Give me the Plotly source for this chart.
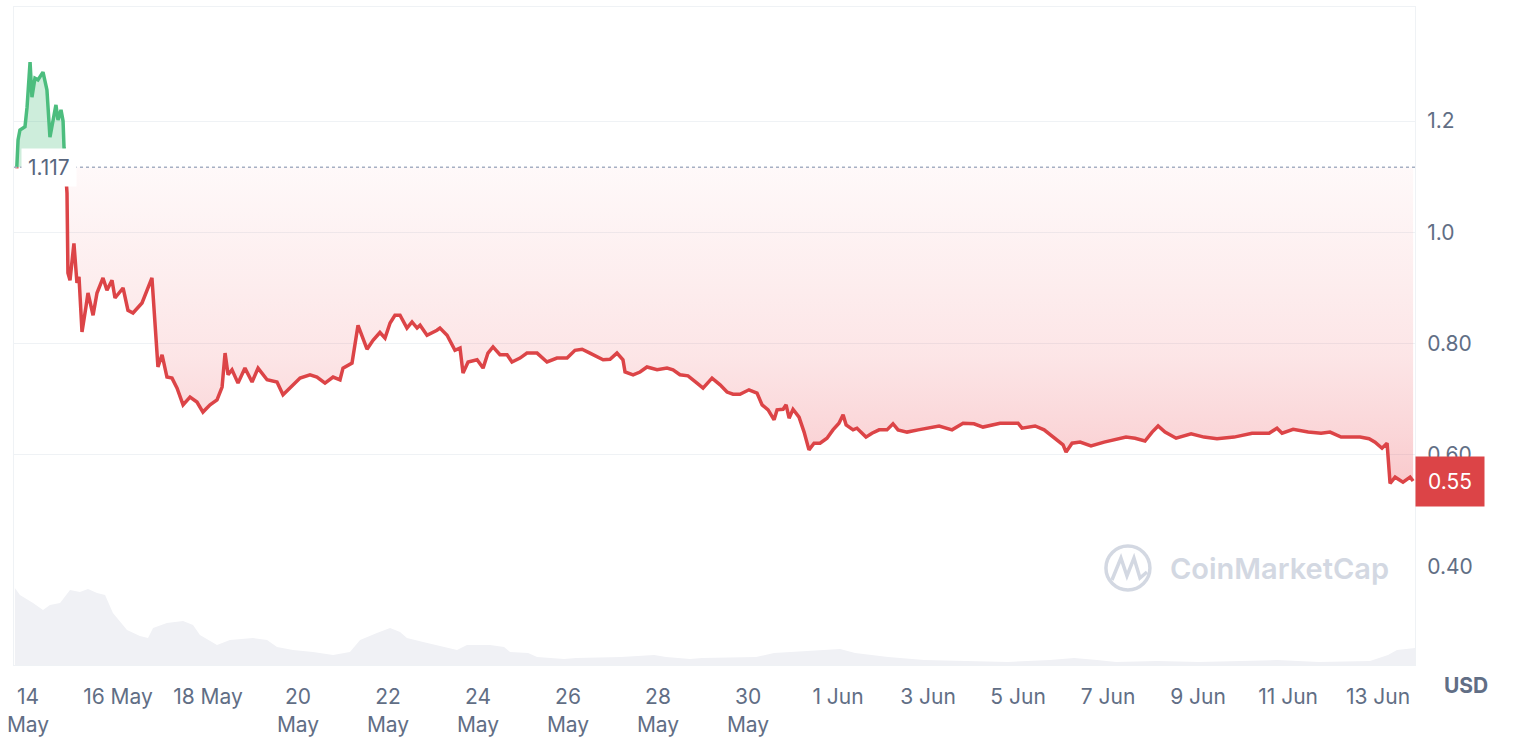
import numpy as np
import pandas as pd
import plotly.graph_objects as go

# - - Datos (horas desde el 14 may 00:00)

horas_precio = [-6.0, -5.3, -4.3, -1.6, -0.5, 1.1, 2.1, 3.7, 5.3, 8.0, 10.1, 11.7, 14.9, 16.0,
                17.6, 18.7, 19.2, 20.8, 21.3, 22.4, 24.5, 26.1, 27.2, 28.8, 30.9, 32.0, 34.7,
                36.8, 40.0, 42.1, 44.8, 46.4, 50.7, 53.3, 56.0, 60.8, 66.1, 67.7, 69.3, 71.5,
                74.1, 76.8, 79.5, 82.7, 86.4, 90.1, 93.3, 97.1, 100.8, 103.5, 105.1, 106.7,
                108.8, 112.0, 115.7, 119.5, 122.7, 127.5, 132.8, 136.0, 141.3, 145.1, 150.4,
                154.1, 158.4, 162.7, 166.4, 168.0, 172.8, 176.0, 180.8, 184.0, 187.7, 190.4,
                193.1, 195.7, 198.4, 202.1, 204.8, 207.5, 209.1, 212.8, 218.1, 219.7, 223.5,
                227.7, 230.4, 232.0, 234.7, 239.5, 242.7, 245.3, 248.0, 251.7, 255.5, 258.1,
                262.4, 266.1, 271.5, 276.8, 282.1, 287.5, 291.7, 295.5, 299.7, 306.7, 310.4,
                314.1, 317.3, 318.4, 322.7, 326.4, 330.1, 335.5, 340.8, 344.0, 347.7, 352.0,
                356.8, 360.0, 364.8, 369.1, 372.8, 376.0, 379.7, 384.5, 388.8, 391.5, 394.7,
                397.9, 399.5, 402.7, 404.3, 405.9, 408.0, 411.2, 413.9, 416.5, 419.2, 422.4,
                426.1, 429.3, 432.5, 434.7, 436.3, 440.0, 442.1, 446.9, 450.1, 453.9, 458.1,
                461.3, 464.0, 468.8, 474.7, 478.9, 485.9, 492.8, 498.7, 504.5, 509.3, 518.4,
                528.0, 530.1, 537.1, 541.9, 545.1, 548.8, 552.0, 553.6, 556.8, 561.1, 566.9,
                573.9, 580.8, 585.6, 590.4, 595.7, 599.5, 602.7, 606.4, 612.3, 620.3, 627.2,
                634.1, 643.2, 652.8, 661.9, 666.1, 668.8, 674.7, 682.7, 689.6, 694.4, 700.3,
                705.6, 710.4, 715.2, 718.4, 722.1, 724.8, 726.4, 729.1, 733.3, 737.1, 738.7]

precio = [1.115, 1.166, 1.184, 1.19, 1.225, 1.306, 1.243, 1.277, 1.274, 1.288, 1.256, 1.171,
          1.229, 1.202, 1.22, 1.2, 1.153, 1.071, 0.927, 0.914, 0.98, 0.909, 0.92, 0.821, 0.866,
          0.891, 0.851, 0.891, 0.918, 0.896, 0.914, 0.882, 0.9, 0.86, 0.855, 0.873, 0.918,
          0.837, 0.758, 0.78, 0.74, 0.738, 0.72, 0.69, 0.704, 0.695, 0.677, 0.69, 0.699, 0.722,
          0.783, 0.744, 0.753, 0.729, 0.756, 0.731, 0.756, 0.735, 0.731, 0.708, 0.726, 0.738,
          0.744, 0.74, 0.729, 0.74, 0.735, 0.756, 0.765, 0.833, 0.79, 0.806, 0.82, 0.81, 0.837,
          0.851, 0.851, 0.828, 0.839, 0.828, 0.833, 0.815, 0.824, 0.828, 0.815, 0.788, 0.792,
          0.747, 0.767, 0.771, 0.756, 0.783, 0.794, 0.78, 0.78, 0.767, 0.774, 0.783, 0.783,
          0.767, 0.774, 0.774, 0.788, 0.79, 0.783, 0.771, 0.772, 0.783, 0.771, 0.749, 0.744,
          0.749, 0.758, 0.753, 0.756, 0.753, 0.744, 0.742, 0.729, 0.72, 0.738, 0.726, 0.713,
          0.709, 0.709, 0.717, 0.711, 0.69, 0.681, 0.663, 0.681, 0.682, 0.69, 0.666, 0.682,
          0.668, 0.641, 0.609, 0.621, 0.621, 0.63, 0.645, 0.657, 0.672, 0.654, 0.645, 0.648,
          0.632, 0.639, 0.645, 0.645, 0.656, 0.645, 0.641, 0.645, 0.648, 0.652, 0.645, 0.657,
          0.656, 0.65, 0.657, 0.657, 0.648, 0.652, 0.645, 0.636, 0.627, 0.618, 0.605, 0.621,
          0.623, 0.616, 0.623, 0.629, 0.632, 0.63, 0.625, 0.641, 0.652, 0.641, 0.63, 0.638,
          0.632, 0.629, 0.632, 0.639, 0.639, 0.648, 0.639, 0.646, 0.641, 0.639, 0.641, 0.632,
          0.632, 0.632, 0.629, 0.623, 0.612, 0.621, 0.549, 0.56, 0.551, 0.56, 0.553]

# volumen en millones de USD
horas_vol = [-7.0, -4.3, 2.7, 8.0, 11.7, 17.1, 22.4, 27.7, 32.0, 36.8, 41.1, 45.3, 52.8, 59.7,
             64.0, 66.7, 74.1, 82.7, 88.0, 91.7, 100.8, 107.7, 120.0, 127.5, 132.8, 141.3,
             152.0, 162.7, 171.7, 177.1, 186.1, 193.1, 198.4, 202.1, 210.7, 221.3, 228.8,
             234.1, 246.4, 253.9, 257.1, 266.7, 271.5, 285.9, 292.3, 316.3, 333.9, 340.3,
             353.1, 359.5, 388.3, 397.9, 407.5, 420.3, 433.1, 441.1, 458.7, 477.9, 522.7,
             545.1, 557.9, 570.1, 580.3, 602.1, 624.5, 666.1, 688.5, 715.7, 725.3, 730.1, 740.0]

volumen = [38.5, 35, 31, 27.5, 30, 31, 37.5, 36.5, 38, 36, 35, 26, 17.5, 14.5, 13.5, 18.5, 21,
           22, 20, 15, 10, 12.5, 13.5, 12.5, 9, 7.5, 6.5, 5, 6.5, 12.5, 16, 18.5, 16.5, 13.5,
           11.5, 9, 7.5, 10, 10, 9, 6.5, 6, 4, 3, 3.5, 4, 5, 4, 3, 3.5, 4, 6, 6.5, 7.5, 8, 6, 4,
           2.5, 1.5, 2.5, 3.5, 2.5, 1.5, 2, 1.5, 2.5, 1.5, 2, 5, 7.5, 8.5]

precio_ref = 1.117

fechas_ticks = ['2024-05-14', '2024-05-16', '2024-05-18', '2024-05-20', '2024-05-22',
                '2024-05-24', '2024-05-26', '2024-05-28', '2024-05-30', '2024-06-01',
                '2024-06-03', '2024-06-05', '2024-06-07', '2024-06-09', '2024-06-11',
                '2024-06-13']
textos_ticks = ['14<br>May', '16 May', '18 May', '20<br>May', '22<br>May', '24<br>May',
                '26<br>May', '28<br>May', '30<br>May', '1 Jun', '3 Jun', '5 Jun', '7 Jun',
                '9 Jun', '11 Jun', '13 Jun']
ticks_y = [0.4, 0.6, 0.8, 1.0, 1.2]
textos_y = ['0.40', '0.60', '0.80', '1.0', '1.2']

# - - Colores
rojo = '#dc4447'
verde = '#4cbd7e'
gris_txt = '#616e85'
gris_grid = '#eff2f5'

inicio = pd.Timestamp('2024-05-14 00:00')


def a_fecha(horas):
    return inicio + pd.to_timedelta(np.asarray(horas, dtype=float), unit='h')


def partir_en_base(h, y, base):
    # agrega los puntos donde la linea cruza el precio de referencia
    hh, yy = [h[0]], [y[0]]
    for i in range(1, len(h)):
        if (y[i - 1] - base) * (y[i] - base) < 0:
            t = (base - y[i - 1]) / (y[i] - y[i - 1])
            hh.append(h[i - 1] + t * (h[i] - h[i - 1]))
            yy.append(base)
        hh.append(h[i])
        yy.append(y[i])
    return np.array(hh), np.array(yy)


hh, yy = partir_en_base(horas_precio, precio, precio_ref)
xx = a_fecha(hh)
y_verde = np.where(yy >= precio_ref, yy, np.nan)
y_rojo = np.where(yy <= precio_ref, yy, np.nan)
base = np.full(len(yy), precio_ref)

fig = go.Figure()

# volumen (eje secundario abajo)
fig.add_trace(go.Scatter(x=a_fecha(horas_vol), y=volumen, yaxis='y2', mode='lines',
                         line=dict(width=0, color='#f0f1f5'), fill='tozeroy',
                         fillcolor='#f0f1f5', hoverinfo='skip'))

# relleno verde sobre la referencia
fig.add_trace(go.Scatter(x=xx, y=base, mode='lines', line=dict(width=0), hoverinfo='skip'))
fig.add_trace(go.Scatter(x=xx, y=np.maximum(yy, precio_ref), mode='lines', line=dict(width=0),
                         fill='tonexty', fillcolor='rgba(76,189,126,0.28)', hoverinfo='skip'))

# relleno rojo con degradado bajo la referencia
fig.add_trace(go.Scatter(x=xx, y=base, mode='lines', line=dict(width=0), hoverinfo='skip'))
fig.add_trace(go.Scatter(x=xx, y=np.minimum(yy, precio_ref), mode='lines', line=dict(width=0),
                         fill='tonexty', hoverinfo='skip',
                         fillgradient=dict(type='vertical', start=0.55, stop=precio_ref,
                                           colorscale=[[0, 'rgba(234,57,67,0.27)'],
                                                       [0.15, 'rgba(234,57,67,0.21)'],
                                                       [0.4, 'rgba(234,57,67,0.13)'],
                                                       [1, 'rgba(234,57,67,0.03)']])))

# lineas de precio
fig.add_trace(go.Scatter(x=xx, y=y_verde, mode='lines', line=dict(color=verde, width=3.5)))
fig.add_trace(go.Scatter(x=xx, y=y_rojo, mode='lines', line=dict(color=rojo, width=3.5)))

# linea punteada del precio de referencia
fig.add_shape(type='line', xref='paper', x0=0, x1=1, yref='y', y0=precio_ref, y1=precio_ref,
              line=dict(color='#a6b0c3', width=1.5, dash='dot'))

fig.add_annotation(xref='paper', x=0.005, xanchor='left', yref='y', y=precio_ref,
                   text='1.117', showarrow=False, bgcolor='white', borderpad=6,
                   font=dict(size=21, color='#58667e'))

fig.add_annotation(xref='paper', x=1.0, xanchor='left', yref='y', y=precio[-1],
                   text='0.55', showarrow=False, bgcolor=rojo, borderpad=12,
                   font=dict(size=21, color='white'))

fig.add_annotation(xref='paper', x=1.019, xanchor='left', yref='paper', y=-0.031,
                   yanchor='middle', text='<b>USD</b>', showarrow=False,
                   font=dict(size=21, color=gris_txt))

# marca de agua
fig.add_shape(type='circle', xref='paper', yref='paper', x0=0.7794, x1=0.8108,
              y0=0.114, y1=0.1809, line=dict(color='#d3d8e2', width=3.5))
fig.add_shape(type='path', xref='paper', yref='paper',
              path='M 0.7837 0.1292 L 0.7901 0.1626 L 0.7944 0.1353 L 0.7994 0.1626 '
                   'L 0.8037 0.1322 L 0.8087 0.1413',
              line=dict(color='#d3d8e2', width=3.5))
fig.add_annotation(xref='paper', x=0.8237, xanchor='left', yref='paper', y=0.1459,
                   yanchor='middle', text='CoinMarketCap', showarrow=False,
                   font=dict(size=29, color='#d3d8e2', family='Inter', weight=600))

fig.update_layout(
    width=1514, height=742,
    margin=dict(l=14, r=99, t=7, b=77),
    paper_bgcolor='white', plot_bgcolor='white',
    showlegend=False,
    font=dict(family='Inter', color=gris_txt),
    xaxis=dict(type='date', range=['2024-05-13 16:32', '2024-06-13 19:42'],
               tickvals=fechas_ticks, ticktext=textos_ticks, showgrid=False,
               ticks='outside', ticklen=13, tickcolor='rgba(0,0,0,0)',
               tickfont=dict(size=21, color=gris_txt), automargin=False,
               showline=True, mirror=True, linecolor=gris_grid, linewidth=1,
               zeroline=False),
    yaxis=dict(side='right', range=[0.2224, 1.405], tickvals=ticks_y, ticktext=textos_y,
               showgrid=True, gridcolor=gris_grid, gridwidth=1,
               ticks='outside', ticklen=7, tickcolor='rgba(0,0,0,0)',
               tickfont=dict(size=21, color=gris_txt), automargin=False,
               showline=True, mirror=True, linecolor=gris_grid, linewidth=1,
               zeroline=False),
    yaxis2=dict(domain=[0, 0.2], range=[0, 65.8], anchor='x', showgrid=False,
                showticklabels=False, zeroline=False),
)

# sin margen del body para que la figura quede en (0, 0)
fig.write_html('out.html', config={'displayModeBar': False},
               post_script="document.body.style.margin='0';")
